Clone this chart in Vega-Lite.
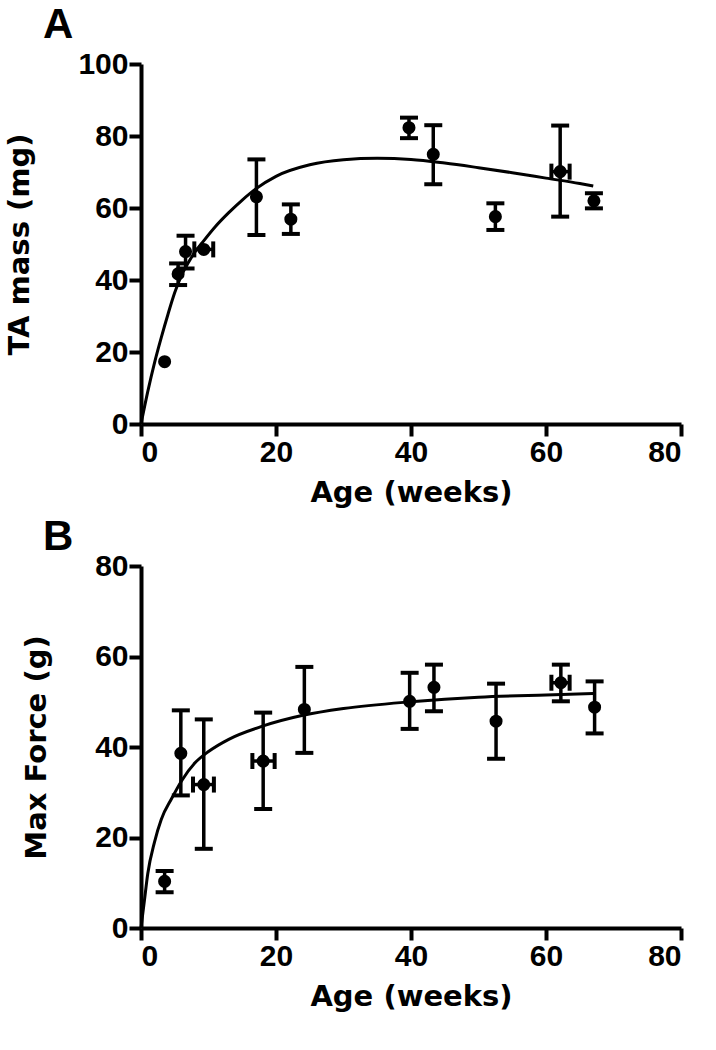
{
  "$schema": "https://vega.github.io/schema/vega-lite/v6.json",
  "background": "white",
  "padding": {"left": 5, "top": 4, "right": 10, "bottom": 5},
  "config": {
    "view": {"stroke": null},
    "axis": {
      "domainColor": "black", "domainWidth": 4, "tickColor": "black", "tickWidth": 4, "tickSize": 12,
      "grid": false, "labelFont": "Liberation Sans", "labelFontSize": 30, "labelFontWeight": "bold",
      "labelColor": "black", "labelPadding": 1, "titleFont": "DejaVu Sans", "titleFontSize": 29,
      "titleFontWeight": "bold", "titleColor": "black"
    },
    "title": {"font": "Liberation Sans", "fontSize": 42, "fontWeight": "bold", "color": "black", "anchor": "start", "frame": "group"},
    "concat": {"spacing": 9}
  },
  "datasets": {
    "ptsA": [
      {"age": 3.5, "val": 17.3, "lo": null, "hi": null, "xlo": null, "xhi": null},
      {"age": 5.5, "val": 41.7, "lo": 38.6, "hi": 44.6, "xlo": null, "xhi": null},
      {"age": 6.6, "val": 47.9, "lo": 43.2, "hi": 52.3, "xlo": null, "xhi": null},
      {"age": 9.3, "val": 48.5, "lo": null, "hi": null, "xlo": 7.9, "xhi": 10.7},
      {"age": 17.1, "val": 63.1, "lo": 52.5, "hi": 73.5, "xlo": null, "xhi": null},
      {"age": 22.2, "val": 56.9, "lo": 52.8, "hi": 61.0, "xlo": null, "xhi": null},
      {"age": 39.7, "val": 82.3, "lo": 79.4, "hi": 85.1, "xlo": null, "xhi": null},
      {"age": 43.3, "val": 74.9, "lo": 66.6, "hi": 83.0, "xlo": null, "xhi": null},
      {"age": 52.5, "val": 57.6, "lo": 53.9, "hi": 61.3, "xlo": null, "xhi": null},
      {"age": 62.1, "val": 70.1, "lo": 57.6, "hi": 82.9, "xlo": 60.8, "xhi": 63.5},
      {"age": 67.1, "val": 62.0, "lo": 59.9, "hi": 64.1, "xlo": null, "xhi": null}
    ],
    "curveA": [
      {"age": 0, "val": 0}, {"age": 1, "val": 9}, {"age": 2, "val": 17}, {"age": 3, "val": 24},
      {"age": 4, "val": 30.5}, {"age": 5, "val": 36.5}, {"age": 6, "val": 41.3}, {"age": 7, "val": 44.8},
      {"age": 8, "val": 47.8}, {"age": 9, "val": 50.2}, {"age": 11, "val": 54.8}, {"age": 13, "val": 58.7},
      {"age": 15, "val": 62.2}, {"age": 17, "val": 65.3}, {"age": 20, "val": 68.8}, {"age": 25, "val": 72},
      {"age": 30, "val": 73.4}, {"age": 35, "val": 73.8}, {"age": 40, "val": 73.5}, {"age": 45, "val": 72.5},
      {"age": 50, "val": 71.2}, {"age": 55, "val": 69.8}, {"age": 60, "val": 68.3}, {"age": 65, "val": 66.8},
      {"age": 67, "val": 66.1}
    ],
    "ptsB": [
      {"age": 3.5, "val": 10.3, "lo": 7.9, "hi": 12.6, "xlo": null, "xhi": null},
      {"age": 5.9, "val": 38.6, "lo": 29.3, "hi": 48.1, "xlo": null, "xhi": null},
      {"age": 9.3, "val": 31.7, "lo": 17.5, "hi": 46.1, "xlo": 7.7, "xhi": 10.8},
      {"age": 18.1, "val": 36.9, "lo": 26.3, "hi": 47.6, "xlo": 16.5, "xhi": 19.8},
      {"age": 24.2, "val": 48.3, "lo": 38.7, "hi": 57.7, "xlo": null, "xhi": null},
      {"age": 39.8, "val": 50.1, "lo": 44.0, "hi": 56.4, "xlo": null, "xhi": null},
      {"age": 43.4, "val": 53.2, "lo": 47.9, "hi": 58.2, "xlo": null, "xhi": null},
      {"age": 52.6, "val": 45.7, "lo": 37.4, "hi": 54.0, "xlo": null, "xhi": null},
      {"age": 62.2, "val": 54.2, "lo": 50.1, "hi": 58.2, "xlo": 60.8, "xhi": 63.5},
      {"age": 67.2, "val": 48.8, "lo": 43.0, "hi": 54.5, "xlo": null, "xhi": null}
    ],
    "curveB": [
      {"age": 0, "val": 0}, {"age": 0.5, "val": 6}, {"age": 1, "val": 12}, {"age": 2, "val": 19},
      {"age": 3, "val": 24}, {"age": 4.5, "val": 28.5}, {"age": 6, "val": 32.5}, {"age": 8, "val": 36.5},
      {"age": 10, "val": 39}, {"age": 13, "val": 41.7}, {"age": 18, "val": 44.6}, {"age": 24, "val": 47},
      {"age": 30, "val": 48.5}, {"age": 40, "val": 50}, {"age": 50, "val": 51}, {"age": 60, "val": 51.5},
      {"age": 67, "val": 51.8}
    ]
  },
  "vconcat": [
    {
      "title": {"text": "A", "dx": -98, "offset": 2},
      "width": 540, "height": 360,
      "layer": [
        {
          "data": {"name": "curveA"},
          "mark": {"type": "line", "color": "black", "strokeWidth": 3, "interpolate": "monotone"},
          "encoding": {
            "x": {"field": "age", "type": "quantitative", "scale": {"domain": [0, 80]},
                  "axis": {"values": [0, 20, 40, 60, 80], "title": "Age (weeks)", "titlePadding": 11}},
            "y": {"field": "val", "type": "quantitative", "scale": {"domain": [0, 100]},
                  "axis": {"values": [0, 20, 40, 60, 80, 100], "title": "TA mass (mg)", "titlePadding": 43}}
          }
        },
        {
          "data": {"name": "ptsA"}, "transform": [{"filter": "datum.lo != null"}],
          "mark": {"type": "rule", "color": "black", "strokeWidth": 3.5},
          "encoding": {"x": {"field": "age", "type": "quantitative"},
                       "y": {"field": "lo", "type": "quantitative"}, "y2": {"field": "hi"}}
        },
        {
          "data": {"name": "ptsA"}, "transform": [{"filter": "datum.lo != null"}],
          "mark": {"type": "tick", "color": "black", "orient": "horizontal", "size": 18, "thickness": 4, "opacity": 1},
          "encoding": {"x": {"field": "age", "type": "quantitative"},
                       "y": {"field": "lo", "type": "quantitative"}}
        },
        {
          "data": {"name": "ptsA"}, "transform": [{"filter": "datum.hi != null"}],
          "mark": {"type": "tick", "color": "black", "orient": "horizontal", "size": 18, "thickness": 4, "opacity": 1},
          "encoding": {"x": {"field": "age", "type": "quantitative"},
                       "y": {"field": "hi", "type": "quantitative"}}
        },
        {
          "data": {"name": "ptsA"}, "transform": [{"filter": "datum.xlo != null"}],
          "mark": {"type": "rule", "color": "black", "strokeWidth": 3.5},
          "encoding": {"x": {"field": "xlo", "type": "quantitative"}, "x2": {"field": "xhi"},
                       "y": {"field": "val", "type": "quantitative"}}
        },
        {
          "data": {"name": "ptsA"}, "transform": [{"filter": "datum.xlo != null"}],
          "mark": {"type": "tick", "color": "black", "orient": "vertical", "size": 16, "thickness": 4, "opacity": 1},
          "encoding": {"x": {"field": "xlo", "type": "quantitative"},
                       "y": {"field": "val", "type": "quantitative"}}
        },
        {
          "data": {"name": "ptsA"}, "transform": [{"filter": "datum.xhi != null"}],
          "mark": {"type": "tick", "color": "black", "orient": "vertical", "size": 16, "thickness": 4, "opacity": 1},
          "encoding": {"x": {"field": "xhi", "type": "quantitative"},
                       "y": {"field": "val", "type": "quantitative"}}
        },
        {
          "data": {"name": "ptsA"},
          "mark": {"type": "circle", "color": "black", "size": 170, "opacity": 1},
          "encoding": {"x": {"field": "age", "type": "quantitative"},
                       "y": {"field": "val", "type": "quantitative"}}
        }
      ]
    },
    {
      "title": {"text": "B", "dx": -98, "offset": -8},
      "width": 540, "height": 362,
      "layer": [
        {
          "data": {"name": "curveB"},
          "mark": {"type": "line", "color": "black", "strokeWidth": 3, "interpolate": "monotone"},
          "encoding": {
            "x": {"field": "age", "type": "quantitative", "scale": {"domain": [0, 80]},
                  "axis": {"values": [0, 20, 40, 60, 80], "title": "Age (weeks)", "titlePadding": 11}},
            "y": {"field": "val", "type": "quantitative", "scale": {"domain": [0, 80]},
                  "axis": {"values": [0, 20, 40, 60, 80], "title": "Max Force (g)", "titlePadding": 43}}
          }
        },
        {
          "data": {"name": "ptsB"}, "transform": [{"filter": "datum.lo != null"}],
          "mark": {"type": "rule", "color": "black", "strokeWidth": 3.5},
          "encoding": {"x": {"field": "age", "type": "quantitative"},
                       "y": {"field": "lo", "type": "quantitative"}, "y2": {"field": "hi"}}
        },
        {
          "data": {"name": "ptsB"}, "transform": [{"filter": "datum.lo != null"}],
          "mark": {"type": "tick", "color": "black", "orient": "horizontal", "size": 18, "thickness": 4, "opacity": 1},
          "encoding": {"x": {"field": "age", "type": "quantitative"},
                       "y": {"field": "lo", "type": "quantitative"}}
        },
        {
          "data": {"name": "ptsB"}, "transform": [{"filter": "datum.hi != null"}],
          "mark": {"type": "tick", "color": "black", "orient": "horizontal", "size": 18, "thickness": 4, "opacity": 1},
          "encoding": {"x": {"field": "age", "type": "quantitative"},
                       "y": {"field": "hi", "type": "quantitative"}}
        },
        {
          "data": {"name": "ptsB"}, "transform": [{"filter": "datum.xlo != null"}],
          "mark": {"type": "rule", "color": "black", "strokeWidth": 3.5},
          "encoding": {"x": {"field": "xlo", "type": "quantitative"}, "x2": {"field": "xhi"},
                       "y": {"field": "val", "type": "quantitative"}}
        },
        {
          "data": {"name": "ptsB"}, "transform": [{"filter": "datum.xlo != null"}],
          "mark": {"type": "tick", "color": "black", "orient": "vertical", "size": 16, "thickness": 4, "opacity": 1},
          "encoding": {"x": {"field": "xlo", "type": "quantitative"},
                       "y": {"field": "val", "type": "quantitative"}}
        },
        {
          "data": {"name": "ptsB"}, "transform": [{"filter": "datum.xhi != null"}],
          "mark": {"type": "tick", "color": "black", "orient": "vertical", "size": 16, "thickness": 4, "opacity": 1},
          "encoding": {"x": {"field": "xhi", "type": "quantitative"},
                       "y": {"field": "val", "type": "quantitative"}}
        },
        {
          "data": {"name": "ptsB"},
          "mark": {"type": "circle", "color": "black", "size": 170, "opacity": 1},
          "encoding": {"x": {"field": "age", "type": "quantitative"},
                       "y": {"field": "val", "type": "quantitative"}}
        }
      ]
    }
  ]
}
